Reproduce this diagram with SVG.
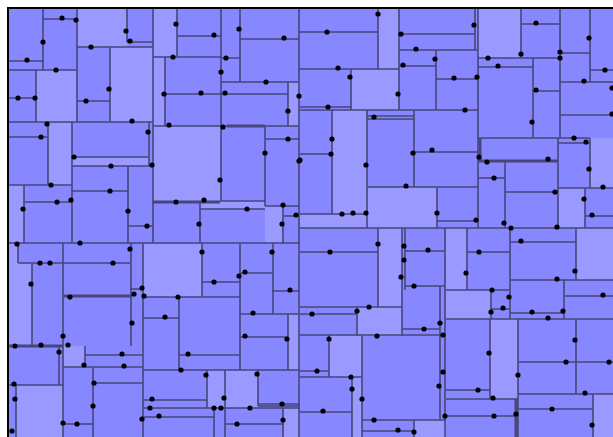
<svg xmlns="http://www.w3.org/2000/svg" width="613" height="437" viewBox="0 0 613 437">
<style>
.bg{fill:#8787ff}
.lt{fill:#9999ff}
.ln{fill:none;stroke:#46467a;stroke-width:1.6}
.tk{fill:none;stroke:#46467a;stroke-width:3}
.bd{fill:none;stroke:#000;stroke-width:2}
.d{fill:#000}
</style>
<rect width="613" height="437" fill="#fff"/>
<g id="cells">
<rect class="bg" x="8" y="8" width="605" height="429"/>
<path class="lt" d="M77 8H127V47H77Z M36 70H77V122H36Z M110 47H153V122H110Z M153 8H177V57H153Z M153 57H165V126H153Z M288 82H299V126H288Z M153 126H221V202H153Z M378 8H399V69H378Z M351 69H399V110H351Z M332 110H367V214H332Z M478 8H521V58H478Z M590 138H613V188H590Z M48 122H72V185H48Z M72 157H149V166H72Z M8 185H24V243H8Z M200 201H265V209H200Z M265 206H283V243H265Z M300 214H367V228H300Z M367 187H437V228H367Z M558 188H585V228H558Z M8 243H18V263H8Z M8 263H32V346H8Z M143 243H202V297H143Z M378 228H402V307H378Z M446 228H467V290H446Z M576 228H613V280H576Z M63 346H85V367H63Z M16 385H63V437H16Z M207 370H225V408H207Z M225 370H258V408H225Z M284 408H299V437H284Z M357 307H402V336H357Z M329 335H362V377H329Z M352 377H362V437H352Z M414 420H446V437H414Z M446 290H491V319H446Z M490 319H518V399H490Z M593 394H613V437H593Z M288 314H299V370H288Z"/>
</g>
<g id="edges">
<path class="ln" d="M43 19H77 M8 61H43 M8 70H77 M8 98H36 M8 122H153 M77 47H153 M127 42H153 M77 101H110 M8 137H48 M153 57H222 M177 36H222 M240 39H299 M222 58H240 M222 82H299 M165 94H288 M153 126H299 M265 139H299 M299 32H378 M299 69H399 M399 34H476 M399 50H478 M399 66H436 M436 79H478 M300 107H351 M300 110H478 M367 116H414 M367 119H414 M521 24H560 M478 58H560 M478 67H533 M533 91H560 M478 138H560 M560 53H590 M590 70H613 M560 82H613 M560 115H613 M558 138H590 M558 143H590 M72 157H149 M72 166H153 M8 185H72 M24 202H72 M72 191H128 M128 226H153 M8 243H300 M220 201H265 M200 209H265 M265 206H299 M283 216H299 M300 154H332 M300 214H367 M300 228H613 M414 152H478 M367 187H478 M437 221H478 M478 178H505 M505 192H558 M558 188H613 M585 216H613 M18 263H130 M130 289H143 M202 282H240 M240 273H273 M272 291H299 M300 252H378 M405 251H445 M405 286H445 M467 252H510 M510 242H576 M510 280H613 M446 290H510 M143 297H240 M143 318H179 M85 355H143 M63 367H143 M8 385H63 M93 383H143 M63 424H93 M179 355H240 M143 370H299 M240 314H299 M240 337H288 M143 400H207 M143 408H300 M143 417H214 M258 404H300 M258 406H300 M225 424H284 M300 307H402 M300 314H357 M402 329H440 M300 335H446 M300 371H329 M300 377H362 M300 412H352 M362 420H446 M362 431H414 M491 309H510 M510 313H564 M564 296H613 M446 319H613 M446 390H490 M446 399H518 M446 416H518 M518 362H613 M518 394H613 M518 409H593"/>
<path class="ln" d="M43 8V70 M77 8V122 M36 70V122 M127 8V42 M110 47V122 M153 8V243 M48 122V185 M72 122V243 M149 122V166 M177 8V57 M221 8V201 M240 8V82 M299 8V437 M165 57V126 M288 82V126 M265 126V206 M378 8V69 M399 8V110 M436 50V110 M351 69V110 M332 110V214 M367 110V228 M414 110V187 M475 8V50 M478 8V228 M521 8V58 M560 8V138 M533 58V138 M590 8V82 M558 138V228 M590 138V188 M505 161V228 M585 188V228 M437 187V228 M24 185V243 M128 166V243 M200 201V243 M283 206V243 M18 243V263 M63 243V437 M32 263V346 M131 243V346 M143 243V437 M202 243V297 M240 243V370 M273 243V314 M378 228V307 M402 228V336 M405 228V290 M445 228V437 M440 286V420 M467 228V290 M510 228V319 M576 228V280 M564 280V319 M491 290V319 M59 346V385 M85 346V367 M93 367V437 M16 385V437 M179 297V370 M288 314V370 M207 370V408 M225 370V437 M214 408V437 M258 370V406 M283 408V437 M357 307V336 M329 335V377 M352 377V437 M362 335V437 M414 420V437 M490 319V399 M518 319V437 M576 319V394 M593 394V437"/>
<path class="tk" d="M153 202H220 M478 161H558 M480 138V161 M227 126H265 M8 346H63 M63 296H132 M516 399V437"/>
<path class="bd" d="M8 437V8H613"/>
</g>
<g id="dots" class="d">
<circle cx="62" cy="18" r="2.6"/><circle cx="76" cy="20" r="2.6"/><circle cx="43" cy="42" r="2.6"/><circle cx="27" cy="60" r="2.6"/><circle cx="56" cy="70" r="2.6"/><circle cx="126" cy="31" r="2.6"/><circle cx="130" cy="41" r="2.6"/><circle cx="91" cy="47" r="2.6"/><circle cx="109" cy="89" r="2.6"/><circle cx="86" cy="101" r="2.6"/><circle cx="18" cy="98" r="2.6"/><circle cx="35" cy="98" r="2.6"/><circle cx="132" cy="121" r="2.6"/><circle cx="47" cy="124" r="2.6"/><circle cx="41" cy="137" r="2.6"/><circle cx="148" cy="132" r="2.6"/>
<circle cx="176" cy="24" r="2.6"/><circle cx="214" cy="35" r="2.6"/><circle cx="173" cy="57" r="2.6"/><circle cx="239" cy="29" r="2.6"/><circle cx="284" cy="38" r="2.6"/><circle cx="226" cy="58" r="2.6"/><circle cx="221" cy="72" r="2.6"/><circle cx="266" cy="82" r="2.6"/><circle cx="164" cy="94" r="2.6"/><circle cx="201" cy="93" r="2.6"/><circle cx="225" cy="93" r="2.6"/><circle cx="299" cy="96" r="2.6"/><circle cx="288" cy="111" r="2.6"/><circle cx="169" cy="125" r="2.6"/><circle cx="223" cy="127" r="2.6"/><circle cx="288" cy="139" r="2.6"/>
<circle cx="327" cy="32" r="2.6"/><circle cx="378" cy="14" r="2.6"/><circle cx="401" cy="34" r="2.6"/><circle cx="416" cy="49" r="2.6"/><circle cx="435" cy="59" r="2.6"/><circle cx="403" cy="65" r="2.6"/><circle cx="454" cy="78" r="2.6"/><circle cx="350" cy="77" r="2.6"/><circle cx="338" cy="68" r="2.6"/><circle cx="398" cy="94" r="2.6"/><circle cx="328" cy="107" r="2.6"/><circle cx="374" cy="117" r="2.6"/><circle cx="332" cy="139" r="2.6"/><circle cx="432" cy="150" r="2.6"/>
<circle cx="474" cy="25" r="2.6"/><circle cx="521" cy="54" r="2.6"/><circle cx="536" cy="23" r="2.6"/><circle cx="488" cy="58" r="2.6"/><circle cx="498" cy="66" r="2.6"/><circle cx="536" cy="90" r="2.6"/><circle cx="532" cy="122" r="2.6"/><circle cx="477" cy="77" r="2.6"/><circle cx="465" cy="110" r="2.6"/><circle cx="589" cy="38" r="2.6"/><circle cx="560" cy="52" r="2.6"/><circle cx="560" cy="58" r="2.6"/><circle cx="605" cy="70" r="2.6"/><circle cx="584" cy="81" r="2.6"/><circle cx="612" cy="88" r="2.6"/><circle cx="612" cy="114" r="2.6"/><circle cx="574" cy="138" r="2.6"/><circle cx="586" cy="142" r="2.6"/>
<circle cx="51" cy="185" r="2.6"/><circle cx="57" cy="202" r="2.6"/><circle cx="71" cy="200" r="2.6"/><circle cx="23" cy="209" r="2.6"/><circle cx="74" cy="157" r="2.6"/><circle cx="111" cy="166" r="2.6"/><circle cx="152" cy="165" r="2.6"/><circle cx="110" cy="191" r="2.6"/><circle cx="147" cy="226" r="2.6"/><circle cx="128" cy="211" r="2.6"/><circle cx="17" cy="244" r="2.6"/><circle cx="80" cy="243" r="2.6"/><circle cx="40" cy="263" r="2.6"/><circle cx="50" cy="263" r="2.6"/><circle cx="31" cy="284" r="2.6"/><circle cx="113" cy="263" r="2.6"/><circle cx="130" cy="249" r="2.6"/><circle cx="142" cy="288" r="2.6"/>
<circle cx="176" cy="202" r="2.6"/><circle cx="220" cy="180" r="2.6"/><circle cx="265" cy="153" r="2.6"/><circle cx="204" cy="200" r="2.6"/><circle cx="199" cy="224" r="2.6"/><circle cx="247" cy="209" r="2.6"/><circle cx="299" cy="161" r="2.6"/><circle cx="283" cy="205" r="2.6"/><circle cx="282" cy="224" r="2.6"/><circle cx="296" cy="215" r="2.6"/><circle cx="202" cy="252" r="2.6"/><circle cx="239" cy="276" r="2.6"/><circle cx="214" cy="282" r="2.6"/><circle cx="272" cy="252" r="2.6"/><circle cx="245" cy="272" r="2.6"/><circle cx="290" cy="290" r="2.6"/>
<circle cx="331" cy="154" r="2.6"/><circle cx="300" cy="160" r="2.6"/><circle cx="366" cy="165" r="2.6"/><circle cx="342" cy="214" r="2.6"/><circle cx="353" cy="213" r="2.6"/><circle cx="366" cy="213" r="2.6"/><circle cx="413" cy="153" r="2.6"/><circle cx="406" cy="186" r="2.6"/><circle cx="437" cy="213" r="2.6"/><circle cx="378" cy="244" r="2.6"/><circle cx="330" cy="252" r="2.6"/><circle cx="404" cy="246" r="2.6"/><circle cx="404" cy="260" r="2.6"/><circle cx="401" cy="277" r="2.6"/><circle cx="414" cy="286" r="2.6"/><circle cx="428" cy="250" r="2.6"/>
<circle cx="476" cy="220" r="2.6"/><circle cx="479" cy="157" r="2.6"/><circle cx="487" cy="162" r="2.6"/><circle cx="548" cy="159" r="2.6"/><circle cx="494" cy="178" r="2.6"/><circle cx="504" cy="223" r="2.6"/><circle cx="555" cy="192" r="2.6"/><circle cx="557" cy="227" r="2.6"/><circle cx="511" cy="228" r="2.6"/><circle cx="589" cy="169" r="2.6"/><circle cx="603" cy="187" r="2.6"/><circle cx="584" cy="199" r="2.6"/><circle cx="592" cy="215" r="2.6"/><circle cx="466" cy="273" r="2.6"/><circle cx="479" cy="252" r="2.6"/><circle cx="521" cy="241" r="2.6"/><circle cx="575" cy="271" r="2.6"/><circle cx="557" cy="279" r="2.6"/><circle cx="492" cy="290" r="2.6"/>
<circle cx="15" cy="346" r="2.6"/><circle cx="41" cy="345" r="2.6"/><circle cx="68" cy="345" r="2.6"/><circle cx="63" cy="336" r="2.6"/><circle cx="70" cy="297" r="2.6"/><circle cx="132" cy="323" r="2.6"/><circle cx="134" cy="294" r="2.6"/><circle cx="144" cy="296" r="2.6"/><circle cx="84" cy="365" r="2.6"/><circle cx="122" cy="354" r="2.6"/><circle cx="124" cy="366" r="2.6"/><circle cx="59" cy="352" r="2.6"/><circle cx="14" cy="384" r="2.6"/><circle cx="15" cy="399" r="2.6"/><circle cx="12" cy="431" r="2.6"/><circle cx="94" cy="383" r="2.6"/><circle cx="93" cy="406" r="2.6"/><circle cx="63" cy="423" r="2.6"/><circle cx="77" cy="424" r="2.6"/><circle cx="152" cy="399" r="2.6"/><circle cx="150" cy="408" r="2.6"/><circle cx="142" cy="419" r="2.6"/><circle cx="159" cy="416" r="2.6"/>
<circle cx="178" cy="297" r="2.6"/><circle cx="165" cy="317" r="2.6"/><circle cx="188" cy="354" r="2.6"/><circle cx="181" cy="370" r="2.6"/><circle cx="253" cy="313" r="2.6"/><circle cx="245" cy="336" r="2.6"/><circle cx="287" cy="339" r="2.6"/><circle cx="206" cy="375" r="2.6"/><circle cx="224" cy="398" r="2.6"/><circle cx="214" cy="408" r="2.6"/><circle cx="221" cy="408" r="2.6"/><circle cx="250" cy="408" r="2.6"/><circle cx="257" cy="374" r="2.6"/><circle cx="282" cy="404" r="2.6"/><circle cx="237" cy="424" r="2.6"/><circle cx="283" cy="420" r="2.6"/>
<circle cx="312" cy="314" r="2.6"/><circle cx="357" cy="311" r="2.6"/><circle cx="369" cy="307" r="2.6"/><circle cx="377" cy="336" r="2.6"/><circle cx="443" cy="335" r="2.6"/><circle cx="424" cy="329" r="2.6"/><circle cx="440" cy="323" r="2.6"/><circle cx="329" cy="339" r="2.6"/><circle cx="317" cy="371" r="2.6"/><circle cx="351" cy="377" r="2.6"/><circle cx="352" cy="389" r="2.6"/><circle cx="362" cy="399" r="2.6"/><circle cx="323" cy="411" r="2.6"/><circle cx="374" cy="420" r="2.6"/><circle cx="398" cy="430" r="2.6"/><circle cx="414" cy="432" r="2.6"/><circle cx="443" cy="372" r="2.6"/><circle cx="439" cy="386" r="2.6"/><circle cx="445" cy="416" r="2.6"/>
<circle cx="509" cy="297" r="2.6"/><circle cx="503" cy="308" r="2.6"/><circle cx="491" cy="312" r="2.6"/><circle cx="532" cy="312" r="2.6"/><circle cx="563" cy="311" r="2.6"/><circle cx="603" cy="295" r="2.6"/><circle cx="548" cy="318" r="2.6"/><circle cx="489" cy="353" r="2.6"/><circle cx="518" cy="375" r="2.6"/><circle cx="478" cy="390" r="2.6"/><circle cx="493" cy="398" r="2.6"/><circle cx="494" cy="416" r="2.6"/><circle cx="516" cy="414" r="2.6"/><circle cx="575" cy="340" r="2.6"/><circle cx="566" cy="362" r="2.6"/><circle cx="609" cy="362" r="2.6"/><circle cx="585" cy="393" r="2.6"/><circle cx="592" cy="425" r="2.6"/><circle cx="552" cy="409" r="2.6"/>
</g>
</svg>
